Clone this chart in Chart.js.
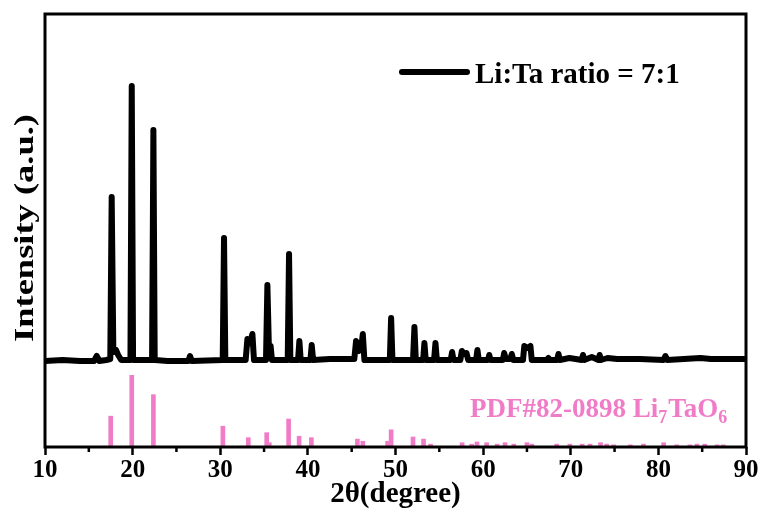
<!DOCTYPE html>
<html>
<head>
<meta charset="utf-8">
<script src="https://cdn.jsdelivr.net/npm/chart.js@4.4.0/dist/chart.umd.min.js"></script>
<style>
  html, body { margin: 0; padding: 0; background: #fff; }
  canvas { display: block; }
</style>
</head>
<body>
<canvas id="xrd" width="766" height="519"></canvas>
<script>
// Measured pattern, Li:Ta = 7:1 (2theta in degrees, intensity in a.u.)
const specTwoTheta = [
  10.0, 12.0, 14.0, 15.6, 15.9, 16.2, 17.0, 17.45, 17.61, 17.8, 18.1, 18.35, 18.7,
  19.75, 19.9, 20.05, 22.22, 22.37, 22.52, 24.0, 26.35, 26.55, 26.75,
  30.28, 30.43, 30.58, 32.9, 33.1, 33.4, 33.67, 33.85, 35.22, 35.38, 35.55, 35.75, 35.9,
  37.7, 37.85, 38.0, 38.88, 39.03, 39.18, 40.29, 40.44, 40.6, 42.5,
  45.3, 45.5, 45.8, 46.1, 46.27, 46.45, 49.35, 49.5, 49.65,
  52.0, 52.16, 52.32, 53.15, 53.3, 53.45, 54.4, 54.56, 54.72,
  56.3, 56.46, 56.62, 57.4, 57.57, 57.85, 58.1, 58.3, 59.2, 59.35, 59.5,
  60.55, 60.7, 60.85, 62.25, 62.4, 62.6, 63.1, 63.27, 63.45,
  64.55, 64.7, 65.05, 65.4, 65.55, 67.3, 67.45, 67.6, 68.45, 68.6, 68.75,
  69.85, 71.25, 71.4, 71.55, 72.4, 73.15, 73.3, 73.45, 74.2, 75.3,
  77.9, 80.6, 80.8, 81.0, 84.8, 86.0, 87.8, 90.0
];
const specIntensity = [
  0, 1, 0, 0, 5, 0, 1, 2, 164, 9, 11, 6, 1,
  1, 275, 1, 1, 231, 1, 0, 0, 5, 0,
  1, 123, 1, 1, 22, 18, 27, 1, 1, 76, 14, 15, 1,
  1, 107, 1, 1, 20, 1, 1, 16, 1, 2,
  2, 20, 10, 14, 27, 1, 1, 43, 1,
  1, 34, 1, 1, 18, 1, 1, 18, 1,
  1, 9, 1, 1, 10, 7, 8, 1, 1, 11, 1,
  1, 6, 1, 1, 8, 2, 2, 7, 1,
  1, 15, 13, 15, 1, 1, 3, 1, 1, 7, 1,
  3, 1, 6, 1, 4, 1, 6, 1, 3, 2,
  2, 1, 5, 1, 3, 2, 2, 2
];

// Reference card PDF#82-0898 (Li7TaO6), relative intensity
const refTwoTheta = [
  17.5, 19.9, 22.37, 30.3, 33.2, 35.3, 35.6, 37.8, 39.0, 40.4,
  45.65, 46.27, 49.1, 49.5, 52.0, 53.2, 54.0,
  57.6, 58.7, 59.3, 60.4, 61.6, 62.5, 63.5, 65.0, 65.55,
  68.4, 69.9, 71.3, 72.2, 73.4, 74.1, 74.9, 76.8, 78.3, 80.6,
  82.1, 83.6, 84.4, 85.3, 86.7, 87.4
];
const refIntensity = [
  43, 100, 73, 29, 13, 20, 6, 39, 15, 13,
  11, 8, 8, 24, 14, 11, 4,
  6, 4, 7, 6, 4, 6, 4, 6, 4,
  4, 4, 4, 4, 6, 4, 3, 3, 4, 6,
  3, 3, 4, 4, 3, 3
];

const xTicks = [10, 20, 30, 40, 50, 60, 70, 80, 90];
const xMinorTicks = [15, 25, 35, 45, 55, 65, 75, 85];

const serif = "'Liberation Serif', 'Times New Roman', serif";
const pink = '#F07CC8';

const decorations = {
  id: 'decorations',
  afterDraw(chart) {
    const { ctx, chartArea: a, scales } = chart;
    ctx.save();

    // frame
    ctx.strokeStyle = '#000';
    ctx.lineWidth = 3;
    ctx.strokeRect(a.left, a.top, a.right - a.left, a.bottom - a.top);

    // minor ticks on the 2theta axis
    ctx.lineWidth = 2.5;
    xMinorTicks.forEach(v => {
      const px = scales.x.getPixelForValue(v);
      ctx.beginPath();
      ctx.moveTo(px, a.bottom);
      ctx.lineTo(px, a.bottom + 5);
      ctx.stroke();
    });

    // legend for the measured pattern
    ctx.lineWidth = 6;
    ctx.lineCap = 'round';
    ctx.beginPath();
    ctx.moveTo(402, 72);
    ctx.lineTo(467, 72);
    ctx.stroke();
    ctx.fillStyle = '#000';
    ctx.font = `bold 29px ${serif}`;
    ctx.textBaseline = 'alphabetic';
    ctx.textAlign = 'left';
    ctx.fillText('Li:Ta ratio = 7:1', 475, 83);

    // y axis title (drawn a bit elongated)
    ctx.save();
    ctx.translate(33, 228);
    ctx.rotate(-Math.PI / 2);
    ctx.scale(1.35, 1);
    ctx.font = `bold 27px ${serif}`;
    ctx.textAlign = 'center';
    ctx.fillText('Intensity (a.u.)', 0, 0);
    ctx.restore();

    // reference card label with subscripts
    const parts = [
      ['PDF#82-0898 Li', false], ['7', true], ['TaO', false], ['6', true]
    ];
    let x = 470;
    const base = 417;
    ctx.fillStyle = pink;
    parts.forEach(([txt, sub]) => {
      ctx.font = sub ? `bold 18px ${serif}` : `bold 27px ${serif}`;
      ctx.fillText(txt, x, sub ? base + 6 : base);
      x += ctx.measureText(txt).width + (sub ? 1 : 0);
    });

    ctx.restore();
  }
};

new Chart(document.getElementById('xrd'), {
  data: {
    datasets: [
      {
        type: 'line',
        label: 'Li:Ta ratio = 7:1',
        data: specTwoTheta.map((t, i) => ({ x: t, y: specIntensity[i] })),
        yAxisID: 'ySpec',
        borderColor: '#000',
        borderWidth: 6,
        borderJoinStyle: 'round',
        borderCapStyle: 'round',
        pointRadius: 0,
        tension: 0
      },
      {
        type: 'bar',
        label: 'PDF#82-0898',
        data: refTwoTheta.map((t, i) => ({ x: t, y: refIntensity[i] })),
        yAxisID: 'yRef',
        backgroundColor: pink,
        barThickness: 4,
        grouped: false
      }
    ]
  },
  options: {
    responsive: false,
    animation: false,
    layout: { padding: { top: 14, right: 20, left: 45, bottom: 0 } },
    plugins: {
      legend: { display: false },
      tooltip: { enabled: false }
    },
    scales: {
      x: {
        type: 'linear',
        min: 10,
        max: 90,
        offset: false,
        afterBuildTicks: s => { s.ticks = xTicks.map(v => ({ value: v })); },
        afterFit: s => { s.height = 72; },
        border: { display: false },
        grid: {
          offset: false,
          drawOnChartArea: false,
          drawTicks: true,
          tickLength: 8,
          tickWidth: 2.5,
          color: '#000'
        },
        ticks: {
          color: '#000',
          padding: 1,
          maxRotation: 0,
          font: { family: serif, size: 25, weight: 'bold' }
        },
        title: {
          display: true,
          text: '2θ(degree)',
          color: '#000',
          padding: { top: 0, bottom: 7 },
          font: { family: serif, size: 29, weight: 'bold' }
        }
      },
      yRef: {
        type: 'linear',
        position: 'left',
        stack: 'xrd',
        stackWeight: 81,
        min: 0,
        max: 113,
        display: false
      },
      ySpec: {
        type: 'linear',
        position: 'left',
        stack: 'xrd',
        stackWeight: 352,
        min: -5,
        max: 347,
        display: false
      }
    }
  },
  plugins: [decorations]
});
</script>
</body>
</html>
